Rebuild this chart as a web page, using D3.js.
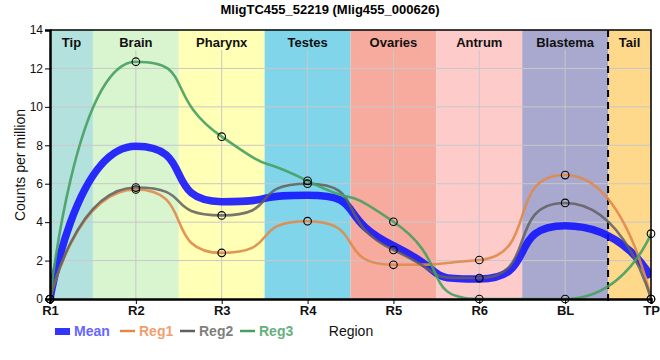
<!DOCTYPE html>
<html><head><meta charset="utf-8">
<script src="https://cdn.jsdelivr.net/npm/d3@7"></script>
<style>body{margin:0;background:#fff;} svg{display:block;font-family:"Liberation Sans",Arial,sans-serif;}</style>
</head><body><svg id="c" width="660" height="360"></svg>
<script>
const title = "MligTC455_52219 (Mlig455_000626)";
const categories = ["R1","R2","R3","R4","R5","R6","BL","TP"];
const reg1 = [0, 5.7, 2.4, 4.05, 1.78, 2.03, 6.45, 0];
const reg2 = [0, 5.8, 4.35, 6.0, 2.55, 1.09, 5.0, 0];
const reg3 = [0, 12.35, 8.45, 6.15, 4.02, 0, 0, 3.4];
const meanVals = categories.map((c,i)=>(reg1[i]+reg2[i]+reg3[i])/3);
const regionNames = ["Tip","Brain","Pharynx","Testes","Ovaries","Antrum","Blastema","Tail"];
const regionColors = ["#b3e2de","#d8f5cf","#ffffb5","#80d5eb","#f6ab9e","#fecbcb","#a9a9cf","#fed98b"];
const yTicks = [0,2,4,6,8,10,12,14];

// Smoothed spline curve (control points clamped between neighbours)
function SplineCurve(context, a){ this._context = context; this._a = a; }
SplineCurve.prototype = {
  areaStart(){}, areaEnd(){},
  lineStart(){ this._pts = []; },
  point(x,y){ this._pts.push([+x,+y]); },
  lineEnd(){
    const p = this._pts, ctx = this._context, a = this._a;
    if(!p.length) return;
    ctx.moveTo(p[0][0], p[0][1]);
    let lastRC = null;
    for(let i=1;i<p.length;i++){
      const [px,py] = p[i], [lx,ly] = p[i-1];
      let lcx = px, lcy = py, rc = null;
      if(i < p.length-1){
        const [nx,ny] = p[i+1];
        lcx = (1-a)*px + a*lx; lcy = (1-a)*py + a*ly;
        let rcx = (1-a)*px + a*nx, rcy = (1-a)*py + a*ny;
        if(rcx !== lcx){ const d = py - rcy - (px - rcx)*(lcy - rcy)/(lcx - rcx); lcy += d; rcy += d; }
        if(lcy > ly && lcy > py){ lcy = Math.max(ly,py); rcy = 2*py-lcy; }
        else if(lcy < ly && lcy < py){ lcy = Math.min(ly,py); rcy = 2*py-lcy; }
        if(rcy > ny && rcy > py){ rcy = Math.max(ny,py); lcy = 2*py-rcy; }
        else if(rcy < ny && rcy < py){ rcy = Math.min(ny,py); lcy = 2*py-rcy; }
        rc = [rcx,rcy];
      }
      const c1 = lastRC || [lx,ly];
      ctx.bezierCurveTo(c1[0],c1[1], lcx,lcy, px,py);
      lastRC = rc;
    }
  }
};
const smoothing = 0.7;
const curveSpline = ctx => new SplineCurve(ctx, smoothing);

const svg = d3.select("#c");
const L=50, R=651, T=30, B=299;
const x = d3.scalePoint().domain(categories).range([L,R]);
const y = d3.scaleLinear().domain([0,14]).range([B,T]);
const step = x.step();

svg.append("clipPath").attr("id","plotclip").append("rect").attr("x",L).attr("y",T).attr("width",R-L).attr("height",B-T);

// bands
const g = svg.append("g");
regionNames.forEach((n,i)=>{
  const cx = x(categories[i]);
  const x0 = Math.max(L, cx - step/2), x1 = Math.min(R, cx + step/2);
  g.append("rect").attr("x",x0).attr("y",T).attr("width",x1-x0).attr("height",B-T).attr("fill",regionColors[i]);
  g.append("text").attr("x",(x0+x1)/2).attr("y",T+17).attr("text-anchor","middle")
    .attr("font-size",13).attr("font-weight","bold").attr("fill","#111").text(n);
});
// grid
yTicks.forEach(t=>{ if(t>0 && t<14) g.append("line").attr("x1",L).attr("x2",R).attr("y1",y(t)).attr("y2",y(t)).attr("stroke","#c8c8c8").attr("stroke-width",1);});
categories.forEach(c=>{ g.append("line").attr("x1",x(c)).attr("x2",x(c)).attr("y1",T+20).attr("y2",B).attr("stroke","#c8c8c8").attr("stroke-width",1);});
// dashed tail boundary
const dashX = x("BL")+step/2;
svg.append("line").attr("x1",dashX).attr("x2",dashX).attr("y1",T).attr("y2",B+6)
  .attr("stroke","#000").attr("stroke-width",2).attr("stroke-dasharray","7,5");

// lines
const line = d3.line().x((d,i)=>x(categories[i])).y(d=>y(d)).curve(curveSpline);
const series = [
  {name:"Mean", vals:meanVals, color:"#1010ff", w:7.5, op:0.88, text:"#6666ff"},
  {name:"Reg1", vals:reg1, color:"#e0894a", w:2.6, op:0.9, text:"#f0a070"},
  {name:"Reg2", vals:reg2, color:"#5f5f5f", w:2.6, op:0.85, text:"#7f7f7f"},
  {name:"Reg3", vals:reg3, color:"#46a060", w:2.6, op:0.9, text:"#66b07c"}
];
const lg = svg.append("g").attr("clip-path","url(#plotclip)");
series.forEach(s=>{
  lg.append("path").attr("d",line(s.vals)).attr("fill","none").attr("stroke",s.color)
    .attr("stroke-width",s.w).attr("stroke-opacity",s.op);
});
series.slice(1).forEach(s=>{
  s.vals.forEach((v,i)=>{
    svg.append("circle").attr("cx",x(categories[i])).attr("cy",y(v)).attr("r",3.8)
      .attr("fill","none").attr("stroke","#000").attr("stroke-width",1.1);
  });
});

// frame
svg.append("path").attr("d",`M${L},${T}H${R}V${B}`).attr("fill","none").attr("stroke","#000").attr("stroke-width",1.5);
// axes
const yAxis = svg.append("g").attr("transform",`translate(${L},0)`)
  .call(d3.axisLeft(y).tickValues(yTicks).tickSize(5).tickPadding(2));
yAxis.select(".domain").attr("stroke-width",2.5);
yAxis.selectAll("text").attr("font-size",12).attr("fill","#111").attr("font-family","Liberation Sans, Arial");
const xAxis = svg.append("g").attr("transform",`translate(0,${B})`)
  .call(d3.axisBottom(x).tickSize(5).tickPadding(2));
xAxis.select(".domain").attr("stroke-width",2.5);
xAxis.selectAll("text").attr("font-size",13).attr("font-weight","bold").attr("fill","#111").attr("font-family","Liberation Sans, Arial");

// titles
svg.append("text").attr("x",330).attr("y",14).attr("text-anchor","middle").attr("font-size",13).attr("font-weight","bold").text(title);
svg.append("text").attr("transform","translate(25,165) rotate(-90)").attr("text-anchor","middle").attr("font-size",14).attr("fill","#111").text("Counts per million");
svg.append("text").attr("x",351).attr("y",336).attr("text-anchor","middle").attr("font-size",14).attr("fill","#111").text("Region");

// legend
const lx = [55,120,180,240];
series.forEach((s,i)=>{
  if(i===0) svg.append("rect").attr("x",lx[i]).attr("y",328).attr("width",15).attr("height",7).attr("fill",s.color).attr("opacity",0.85);
  else svg.append("line").attr("x1",lx[i]).attr("x2",lx[i]+15).attr("y1",331).attr("y2",331).attr("stroke",s.color).attr("stroke-width",2.5);
  svg.append("text").attr("x",lx[i]+19).attr("y",336).attr("font-size",14).attr("font-weight","bold").attr("fill",s.text).text(s.name);
});
</script></body></html>
